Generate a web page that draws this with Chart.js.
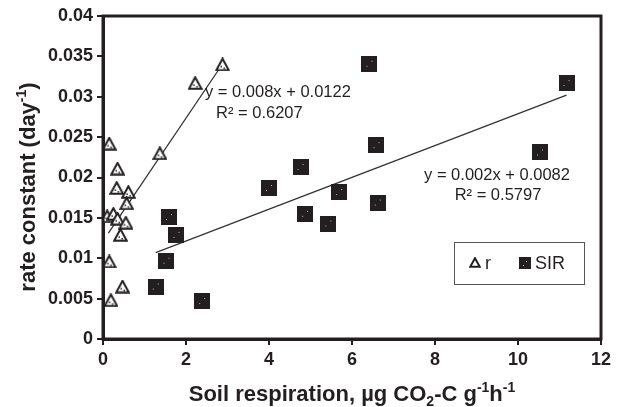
<!DOCTYPE html>
<html><head><meta charset="utf-8">
<script src="https://cdn.jsdelivr.net/npm/chart.js@4.4.1/dist/chart.umd.min.js"></script>
<style>html,body{margin:0;padding:0;background:#fff}#wrap{width:621px;height:407px}</style>
</head><body><div id="wrap"><canvas id="c" width="621" height="407"></canvas></div>
<script>
// ---- data ----
const rX = [0.15, 0.35, 0.33, 0.61, 0.57, 0.10, 0.25, 0.35, 0.55, 0.42, 0.15, 0.47, 0.19, 1.37, 2.22, 2.88];
const rY = [0.0242, 0.0211, 0.0187, 0.0182, 0.0168, 0.0152, 0.0155, 0.0149, 0.0144, 0.0129, 0.0096, 0.0065, 0.0048, 0.0230, 0.0317, 0.0340];
const sirX = [1.27, 1.53, 1.59, 1.77, 2.39, 4.00, 4.76, 4.87, 5.43, 5.69, 6.42, 6.59, 6.62, 10.53, 11.17];
const sirY = [0.0065, 0.0097, 0.0151, 0.0129, 0.0047, 0.0187, 0.0213, 0.0155, 0.0143, 0.0182, 0.0341, 0.0240, 0.0169, 0.0231, 0.0317];
const rFitX = [0.13, 2.86];
const rFitY = [0.0131, 0.0339];
const sirFitX = [1.27, 11.17];
const sirFitY = [0.0107, 0.0302];
const xTicks = [0, 2, 4, 6, 8, 10, 12];
const yTicks = [0, 0.005, 0.01, 0.015, 0.02, 0.025, 0.03, 0.035, 0.04];
const seriesNames = ['r', 'SIR'];
const rEquation = ['y = 0.008x + 0.0122', 'R\u00B2 = 0.6207'];
const sirEquation = ['y = 0.002x + 0.0082', 'R\u00B2 = 0.5797'];
const yTitleRuns = [{t: 'rate constant (day'}, {t: '-1', sup: true}, {t: ')'}];
const xTitleRuns = [{t: 'Soil respiration, \u00B5g CO'}, {t: '2', sub: true}, {t: '-C g'}, {t: '-1', sup: true}, {t: 'h'}, {t: '-1', sup: true}];

const INK = '#231f20';
const FONT = '"Liberation Sans", Arial, Helvetica, sans-serif';

function makeTri(w, h, lw) {
  const c = document.createElement('canvas'); c.width = w; c.height = h;
  const g = c.getContext('2d');
  g.beginPath(); g.moveTo(w / 2, lw * 0.6); g.lineTo(w - lw * 0.6, h - lw * 0.6); g.lineTo(lw * 0.6, h - lw * 0.6); g.closePath();
  g.fillStyle = '#fff'; g.fill(); g.lineWidth = lw; g.strokeStyle = INK; g.lineJoin = 'miter'; g.stroke();
  if (w > 12) { g.fillStyle = INK; g.fillRect(w / 2 - 2, h * 0.6, 1.5, 1.5); g.fillRect(w / 2 + 1, h * 0.72, 1.5, 1.5); }
  return c;
}
function makeSq(s) {
  const c = document.createElement('canvas'); c.width = s; c.height = s;
  const g = c.getContext('2d');
  g.fillStyle = INK; g.fillRect(0, 0, s, s);
  g.fillStyle = '#bbb';
  g.fillRect(Math.round(s * 0.62), Math.round(s * 0.3), 1, 1);
  g.fillRect(Math.round(s * 0.3), Math.round(s * 0.65), 1, 1);
  return c;
}
const triImg = makeTri(15, 14, 2);
const sqImg = makeSq(16);
const triLeg = makeTri(12, 11, 2);
const sqLeg = makeSq(12);

function drawRuns(ctx, runs, x, y, size) {
  const main = 'bold ' + size + 'px ' + FONT;
  const small = 'bold ' + Math.round(size * 0.62) + 'px ' + FONT;
  let total = 0;
  runs.forEach(r => { ctx.font = (r.sup || r.sub) ? small : main; total += ctx.measureText(r.t).width; });
  let cx = x - total / 2;
  ctx.textAlign = 'left'; ctx.textBaseline = 'alphabetic';
  runs.forEach(r => {
    ctx.font = (r.sup || r.sub) ? small : main;
    const dy = r.sup ? -size * 0.42 : (r.sub ? size * 0.22 : 0);
    ctx.fillText(r.t, cx, y + dy);
    cx += ctx.measureText(r.t).width;
  });
}

const extras = {
  id: 'extras',
  afterDraw(chart) {
    const ctx = chart.ctx, a = chart.chartArea;
    ctx.save();
    ctx.strokeStyle = INK; ctx.lineWidth = 3;
    ctx.strokeRect(a.left, a.top, a.right - a.left, a.bottom - a.top);
    // equations
    ctx.fillStyle = INK; ctx.font = '16.5px ' + FONT; ctx.textBaseline = 'middle'; ctx.textAlign = 'left';
    ctx.fillText(rEquation[0], 205, 92);
    ctx.fillText(rEquation[1], 216, 113);
    ctx.textAlign = 'center';
    ctx.fillText(sirEquation[0], 497, 175);
    ctx.fillText(sirEquation[1], 498, 195);
    // legend
    ctx.lineWidth = 1; ctx.strokeStyle = '#555';
    ctx.strokeRect(454.5, 242.5, 130, 42);
    ctx.drawImage(triLeg, 475 - 6, 263 - 6);
    ctx.drawImage(sqLeg, 525 - 6, 263 - 6);
    ctx.fillStyle = INK; ctx.font = '18px ' + FONT; ctx.textAlign = 'left'; ctx.textBaseline = 'middle';
    ctx.fillText(seriesNames[0], 485, 264);
    ctx.fillText(seriesNames[1], 535, 264);
    // axis titles
    drawRuns(ctx, xTitleRuns, 352, 401, 22);
    ctx.translate(35, 187); ctx.rotate(-Math.PI / 2);
    drawRuns(ctx, yTitleRuns, 0, 0, 22);
    ctx.restore();
  }
};

const pts = (xs, ys) => xs.map((x, i) => ({x: x, y: ys[i]}));

new Chart(document.getElementById('c'), {
  type: 'scatter',
  data: {
    datasets: [
      {label: seriesNames[0], data: pts(rX, rY), pointStyle: triImg, pointRadius: 7, order: 1},
      {label: seriesNames[1], data: pts(sirX, sirY), pointStyle: sqImg, pointRadius: 8, order: 1},
      {label: 'r fit', type: 'line', data: pts(rFitX, rFitY), borderColor: '#333', borderWidth: 1.3, pointRadius: 0, order: 2},
      {label: 'SIR fit', type: 'line', data: pts(sirFitX, sirFitY), borderColor: '#333', borderWidth: 1.3, pointRadius: 0, order: 2}
    ]
  },
  options: {
    responsive: false, animation: false, devicePixelRatio: 1,
    layout: {padding: {top: 16, right: 20, left: 0, bottom: 0}},
    plugins: {legend: {display: false}, tooltip: {enabled: false}},
    scales: {
      x: {
        type: 'linear', min: 0, max: 12,
        afterBuildTicks: s => { s.ticks = xTicks.map(v => ({value: v})); },
        afterFit: s => { s.height = 68; },
        ticks: {color: INK, font: {family: FONT, size: 18, weight: 'bold'}, padding: 4, callback: v => String(v)},
        grid: {drawOnChartArea: false, drawTicks: true, tickLength: 6, color: INK, lineWidth: 2},
        border: {display: true, color: INK, width: 3}
      },
      y: {
        type: 'linear', min: 0, max: 0.04,
        afterBuildTicks: s => { s.ticks = yTicks.map(v => ({value: v})); },
        afterFit: s => { s.width = 103; },
        ticks: {color: INK, font: {family: FONT, size: 18, weight: 'bold'}, padding: 4, callback: v => String(+(+v).toFixed(3))},
        grid: {drawOnChartArea: false, drawTicks: true, tickLength: 6, color: INK, lineWidth: 2},
        border: {display: true, color: INK, width: 3}
      }
    }
  },
  plugins: [extras]
});
</script></body></html>
